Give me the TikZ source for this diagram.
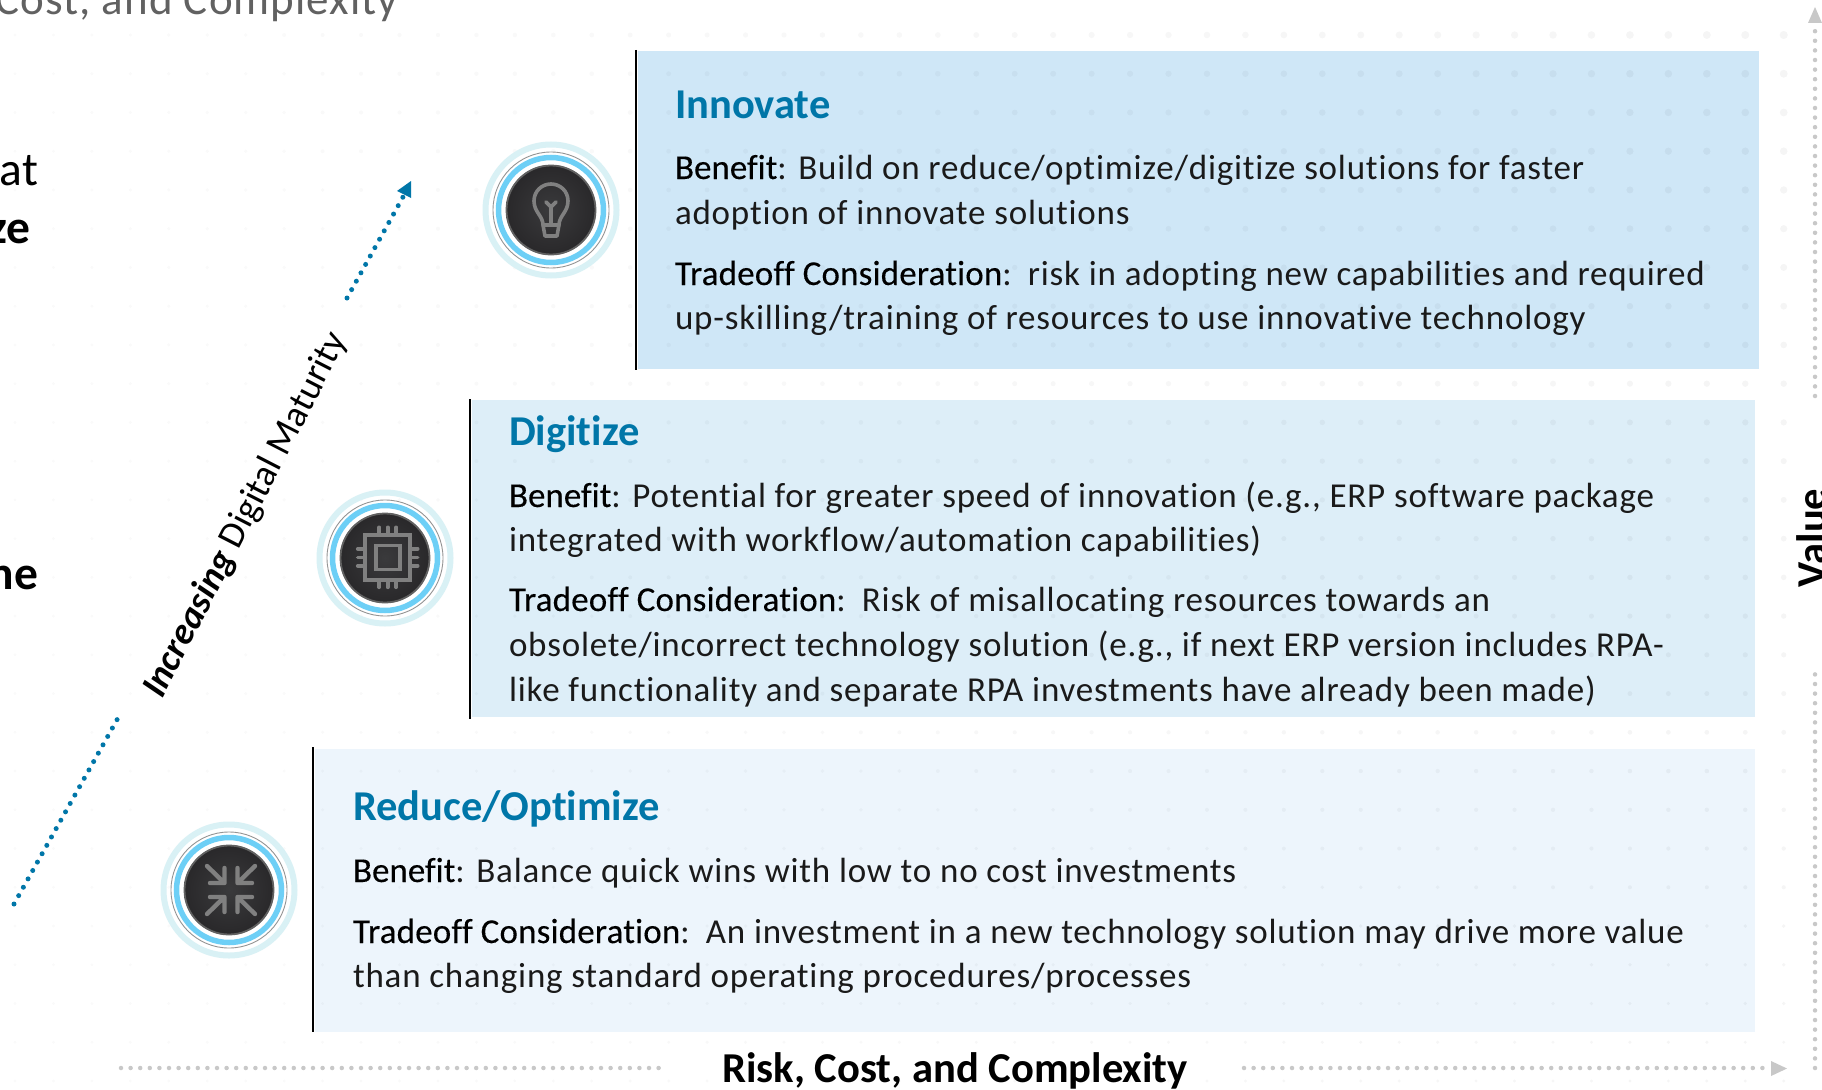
\documentclass[tikz,border=0pt]{standalone}
\usepackage{fontspec}
\setmainfont[Ligatures=NoCommon]{Carlito}
\newfontfamily\bodyf[LetterSpace=2.3,Ligatures=NoCommon]{Carlito}
\newfontfamily\labf[FakeBold=0.25,Ligatures=NoCommon]{Carlito}
\newfontfamily\labwf[FakeBold=0.25,LetterSpace=0.5,Ligatures=NoCommon]{Carlito}
\usetikzlibrary{arrows.meta,shadings}
\definecolor{dblue}{HTML}{0076A8}
\definecolor{tbody}{HTML}{1A1A1A}
\definecolor{axisgray}{HTML}{C8C8C8}
\definecolor{halo}{HTML}{D9F1F5}
\definecolor{ringblue}{HTML}{6DCFF6}
\definecolor{iconGray}{HTML}{808080}
\definecolor{discA}{HTML}{3A3A3C}
\definecolor{discB}{HTML}{29282A}
\pgfdeclareradialshading{discshade}{\pgfpointorigin}{color(0bp)=(discA);color(25bp)=(discB);color(50bp)=(discB)}
\newcommand{\lab}[1]{{\labf\fontsize{35}{44.7}\selectfont\color{black}#1}}
\newcommand{\labt}{{\labwf\fontsize{35}{44.7}\selectfont\color{black}Tradeoff Consideration}:\hspace{4.5pt}\space}
\tikzset{
  every node/.style={inner sep=0pt,outer sep=0pt},
  titletext/.style={anchor=base west,font=\bfseries\fontsize{42.5}{48}\selectfont,text=dblue},
  bodytext/.style={anchor=base west,font=\bodyf\fontsize{35}{44.7}\selectfont,text=tbody},
  edgeline/.style={line width=2.4pt,black},
  halotrack/.style={line width=6pt,halo},
  graytrack/.style={line width=0.9pt,black!42},
  bluetrack/.style={line width=5.5pt,ringblue},
  iconline/.style={line width=3.6pt,iconGray,line cap=round,line join=round},
  axisdots/.style={line width=4.5pt,axisgray,dash pattern=on 0pt off 9.6pt,line cap=round},
  risedots/.style={line width=5pt,dblue,dash pattern=on 0pt off 9.6pt,line cap=round},
  cuttext/.style={anchor=base east,font=\fontsize{47.5}{56}\selectfont,text=black},
}
\newcommand{\medallion}[2]{%
  \node[circle,minimum size=90pt] (#1) at (#2) {};
  \draw[halotrack] (#2) circle (65.5);
  \draw[graytrack] (#2) circle (58);
  \draw[bluetrack] (#2) circle (52.5);
  \shade[shading=discshade] (#2) circle (45);
  \draw[line width=1.8pt,black!62] (#2) circle (44.5);
}
\begin{document}
\begin{tikzpicture}[x=1pt,y=-1pt]
\useasboundingbox (0,0) rectangle (1822,1089);
\clip (0,0) rectangle (1822,1089);
\fill[white] (0,0) rectangle (1822,1089);
% panels
\fill[fill={rgb,255:red,207;green,231;blue,247}] (638,51) rectangle (1759,369);
\fill[fill={rgb,255:red,221;green,238;blue,248}] (472,400) rectangle (1755,717);
\fill[fill={rgb,255:red,237;green,245;blue,252}] (315,749) rectangle (1755,1032);
% halftone dot field
\foreach \i in {0,...,46}{\foreach \j in {0,...,27}{%
  \pgfmathsetmacro{\dx}{15+38.45*\i}%
  \pgfmathsetmacro{\dy}{35+38.74*\j}%
  \pgfmathsetmacro{\dr}{1.6+2.6*(\dx/1822)*(1-\dy/1089)}%
  \pgfmathsetmacro{\dop}{0.018+0.022*(\dx/1822)}%
  \fill[black,opacity=\dop] (\dx,\dy) circle (\dr);
}}
% edges
\coordinate (e1a) at (636,50); \coordinate (e1b) at (636,370);
\coordinate (e2a) at (470,399); \coordinate (e2b) at (470,719);
\coordinate (e3a) at (313,747); \coordinate (e3b) at (313,1032);
\draw[edgeline] (e1a) -- (e1b);
\draw[edgeline] (e2a) -- (e2b);
\draw[edgeline] (e3a) -- (e3b);
% header and cut off text
\node[anchor=base east,font=\bodyf\fontsize{45}{52}\selectfont,text=black!62] (hdr) at (398,15) {Cost, and Complexity};
\node[cuttext] (cutA) at (38,185) {at};
\node[cuttext,font=\bfseries\fontsize{47.5}{56}\selectfont] (cutB) at (30,243) {ze};
\node[cuttext,font=\bfseries\fontsize{47.5}{56}\selectfont] (cutC) at (38,589) {ne};
% medallions
\medallion{mA}{551,210}
\medallion{mB}{385,558}
\medallion{mC}{229,890}
% bulb icon
\begin{scope}[shift={(551,210)}]
\draw[iconline] (-8,15) .. controls (-8,6) and (-17,2) .. (-17,-9) .. controls (-17,-19) and (-9,-26) .. (0,-26) .. controls (9,-26) and (17,-19) .. (17,-9) .. controls (17,2) and (8,6) .. (8,15) -- cycle;
\draw[iconline] (-8,15) -- (-6,26) -- (6,26) -- (8,15);
\draw[iconline] (0,15) -- (0,-3) (-5,-8) -- (0,-3) -- (5,-8);
\end{scope}
% chip icon
\begin{scope}[shift={(387.7,557.3)}]
\draw[iconline,line cap=butt,line join=miter] (-22.5,-22.5) rectangle (22.5,22.5);
\draw[iconline,line cap=butt,line join=miter] (-12,-12) rectangle (12,12);
\foreach \p in {-8.5,0,8.5}{
  \draw[iconline] (\p,-22.5) -- (\p,-30);
  \draw[iconline] (\p,22.5) -- (\p,30);
  \draw[iconline] (-22.5,\p) -- (-30,\p);
  \draw[iconline] (22.5,\p) -- (30,\p);
}
\end{scope}
% compress icon
\begin{scope}[shift={(231,890)}]
\foreach \sx/\sy in {1/1,1/-1,-1/1,-1/-1}{
  \begin{scope}[xscale=\sx,yscale=\sy]
  \draw[iconline,line width=4.4pt] (24,24) -- (6.5,7) (6.5,22) -- (6.5,7) -- (21,7);
  \end{scope}
}
\end{scope}
% panel 1
\node[titletext] (t1) at (675,118.5) {Innovate};
\node[bodytext] (b1a) at (675,179) {\lab{Benefit}: Build on reduce/optimize/digitize solutions for faster};
\node[bodytext] (b1b) at (675,224) {adoption of innovate solutions};
\node[bodytext] (b1c) at (675,285) {\labt risk in adopting new capabilities and required};
\node[bodytext] (b1d) at (675,329) {up-skilling/training of resources to use innovative technology};
% panel 2
\node[titletext] (t2) at (509,445) {Digitize};
\node[bodytext] (b2a) at (509,507) {\lab{Benefit}: Potential for greater speed of innovation (e.g., ERP software package};
\node[bodytext] (b2b) at (509,551) {integrated with workflow/automation capabilities)};
\node[bodytext] (b2c) at (509,611) {\labt Risk of misallocating resources towards an};
\node[bodytext] (b2d) at (509,656) {obsolete/incorrect technology solution (e.g., if next ERP version includes RPA-};
\node[bodytext] (b2e) at (509,701) {like functionality and separate RPA investments have already been made)};
% panel 3
\node[titletext] (t3) at (353,820) {Reduce/Optimize};
\node[bodytext] (b3a) at (353,882) {\lab{Benefit}: Balance quick wins with low to no cost investments};
\node[bodytext] (b3b) at (353,943) {\labt An investment in a new technology solution may drive more value};
\node[bodytext] (b3c) at (353,987) {than changing standard operating procedures/processes};
% maturity arrow
\node[anchor=center,rotate=62.8,font=\fontsize{37.3}{44}\selectfont,text=black] (mat) at (246,515) {\textbf{\textit{Increasing}} Digital Maturity};
\coordinate (ra) at (14,904); \coordinate (rb) at (118,718);
\coordinate (rc) at (347,298); \coordinate (rd) at (403,197);
\coordinate (rtip) at (411,181);
\draw[risedots] (ra) -- (rb);
\draw[risedots] (rc) -- (rd);
\fill[dblue] (rtip) -- (397,191) -- (411,198) -- cycle;
% axes
\node[anchor=base,font=\bfseries\fontsize{42.6}{48}\selectfont,text=black] (rx) at (955,1082) {Risk, Cost, and Complexity};
\node[anchor=base,rotate=90,font=\bfseries\fontsize{42.6}{48}\selectfont,text=black] (vx) at (1826,538) {Value};
\coordinate (xa) at (121,1068); \coordinate (xb) at (661,1068);
\coordinate (xc) at (1244,1068); \coordinate (xd) at (1765,1068);
\coordinate (xtip) at (1787,1068.5);
\draw[axisdots] (xa) -- (xb);
\draw[axisdots] (xc) -- (xd);
\fill[axisgray] (xtip) -- (1771,1061) -- (1771,1076) -- cycle;
\coordinate (ya) at (1815,1068); \coordinate (yb) at (1815,674);
\coordinate (yc) at (1815,396); \coordinate (yd) at (1815,29);
\coordinate (ytip) at (1815,7);
\draw[axisdots] (ya) -- (yb);
\draw[axisdots] (yc) -- (yd);
\fill[axisgray] (ytip) -- (1808,23) -- (1822,23) -- cycle;
\end{tikzpicture}
\end{document}
